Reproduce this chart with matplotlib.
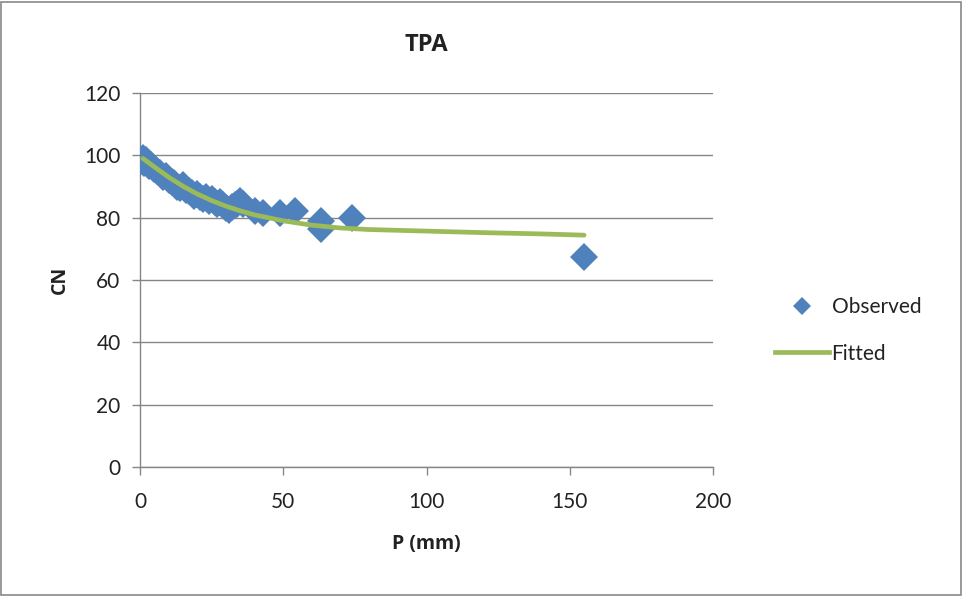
import matplotlib
matplotlib.use("Agg")
import matplotlib.pyplot as plt
from matplotlib.lines import Line2D
from matplotlib.patches import Rectangle

plt.rcParams["font.family"] = ["Lato", "DejaVu Sans"]
BOLD = ["Open Sans", "DejaVu Sans"]

# ── Observed (P mm, CN) ──────────────────────────────
obs_p = [0, 1, 1.5, 2, 3, 4, 5, 6, 7, 8, 9, 10, 11, 12, 13, 14, 15, 16, 17,
         18, 19, 20, 21, 22, 23, 24, 25, 26, 27, 28, 29, 30, 31, 32, 33, 34,
         35, 36, 40, 43, 49, 54, 63, 63.3, 74, 155]
obs_cn = [98, 99, 97.5, 98.5, 96.5, 97, 95.5, 95, 94.5, 93, 93.5, 92, 91.5,
          91, 90, 89.5, 90.5, 89, 88.5, 88, 87, 87.5, 86.5, 86, 86.5, 85.5,
          86, 85, 84.5, 85, 84, 83, 82.5, 83.5, 84, 84.5, 85.5, 84.5, 82,
          81.5, 81.5, 82, 79, 76.5, 79.8, 67.5]

# ── Fitted curve ─────────────────────────────────────
fit_p = [1, 5, 10, 15, 20, 25, 30, 35, 40, 50, 60, 70, 80, 100, 120, 140, 155]
fit_cn = [99, 96.3, 93, 90.1, 87.6, 85.5, 83.7, 82.2, 80.9, 79.0, 77.6, 76.7,
          76.2, 75.7, 75.2, 74.8, 74.4]

x_ticks = [0, 50, 100, 150, 200]
y_ticks = [0, 20, 40, 60, 80, 100, 120]

BLUE = "#4F81BD"
GREEN = "#9BBB59"
GRID = "#868686"
TXT = "#222222"

fig = plt.figure(figsize=(9.63, 5.96), dpi=100)
ax = fig.add_axes([0.1454, 0.2164, 0.595, 0.6275])

ax.plot(obs_p, obs_cn, linestyle="none", marker="D", markersize=14,
        color=BLUE, markeredgewidth=0, label="Observed", zorder=3)
ax.plot(fit_p, fit_cn, color=GREEN, linewidth=3.4, solid_capstyle="round",
        label="Fitted", zorder=4)

ax.set_xlim(0, 200)
ax.set_ylim(0, 120)
ax.set_xticks(x_ticks)
ax.set_yticks(y_ticks)
ax.tick_params(axis="both", labelsize=15, colors=GRID, labelcolor=TXT,
               length=6, width=1)
ax.tick_params(axis="x", pad=12)
ax.tick_params(axis="y", pad=8)

ax.yaxis.grid(True, color=GRID, linewidth=1)
ax.set_axisbelow(True)
for s in ("top", "right"):
    ax.spines[s].set_visible(False)
for s in ("left", "bottom"):
    ax.spines[s].set_color(GRID)
    ax.spines[s].set_linewidth(1)

ax.set_title("TPA", fontsize=17, fontweight="bold", family=BOLD, color=TXT, pad=30)
ax.set_xlabel("P (mm)", fontsize=14, fontweight="bold", family=BOLD,
              color=TXT, labelpad=16)
ax.set_ylabel("CN", fontsize=14, fontweight="bold", family=BOLD,
              color=TXT, labelpad=10)

handles = [
    Line2D([], [], linestyle="none", marker="D", markersize=9,
           color=BLUE, markeredgewidth=0),
    Line2D([], [], color=GREEN, linewidth=3.4),
]
leg = ax.legend(handles, ["Observed", "Fitted"], loc="center left",
                bbox_to_anchor=(1.076, 0.365), frameon=False, fontsize=15,
                handlelength=2.6, handletextpad=0.1, labelspacing=1.25,
                labelcolor=TXT)

fig.patches.append(Rectangle((0.001, 0.002), 0.997, 0.995, transform=fig.transFigure,
                             fill=False, edgecolor="#898989", linewidth=1.2))

fig.savefig("out.png", dpi=100)
